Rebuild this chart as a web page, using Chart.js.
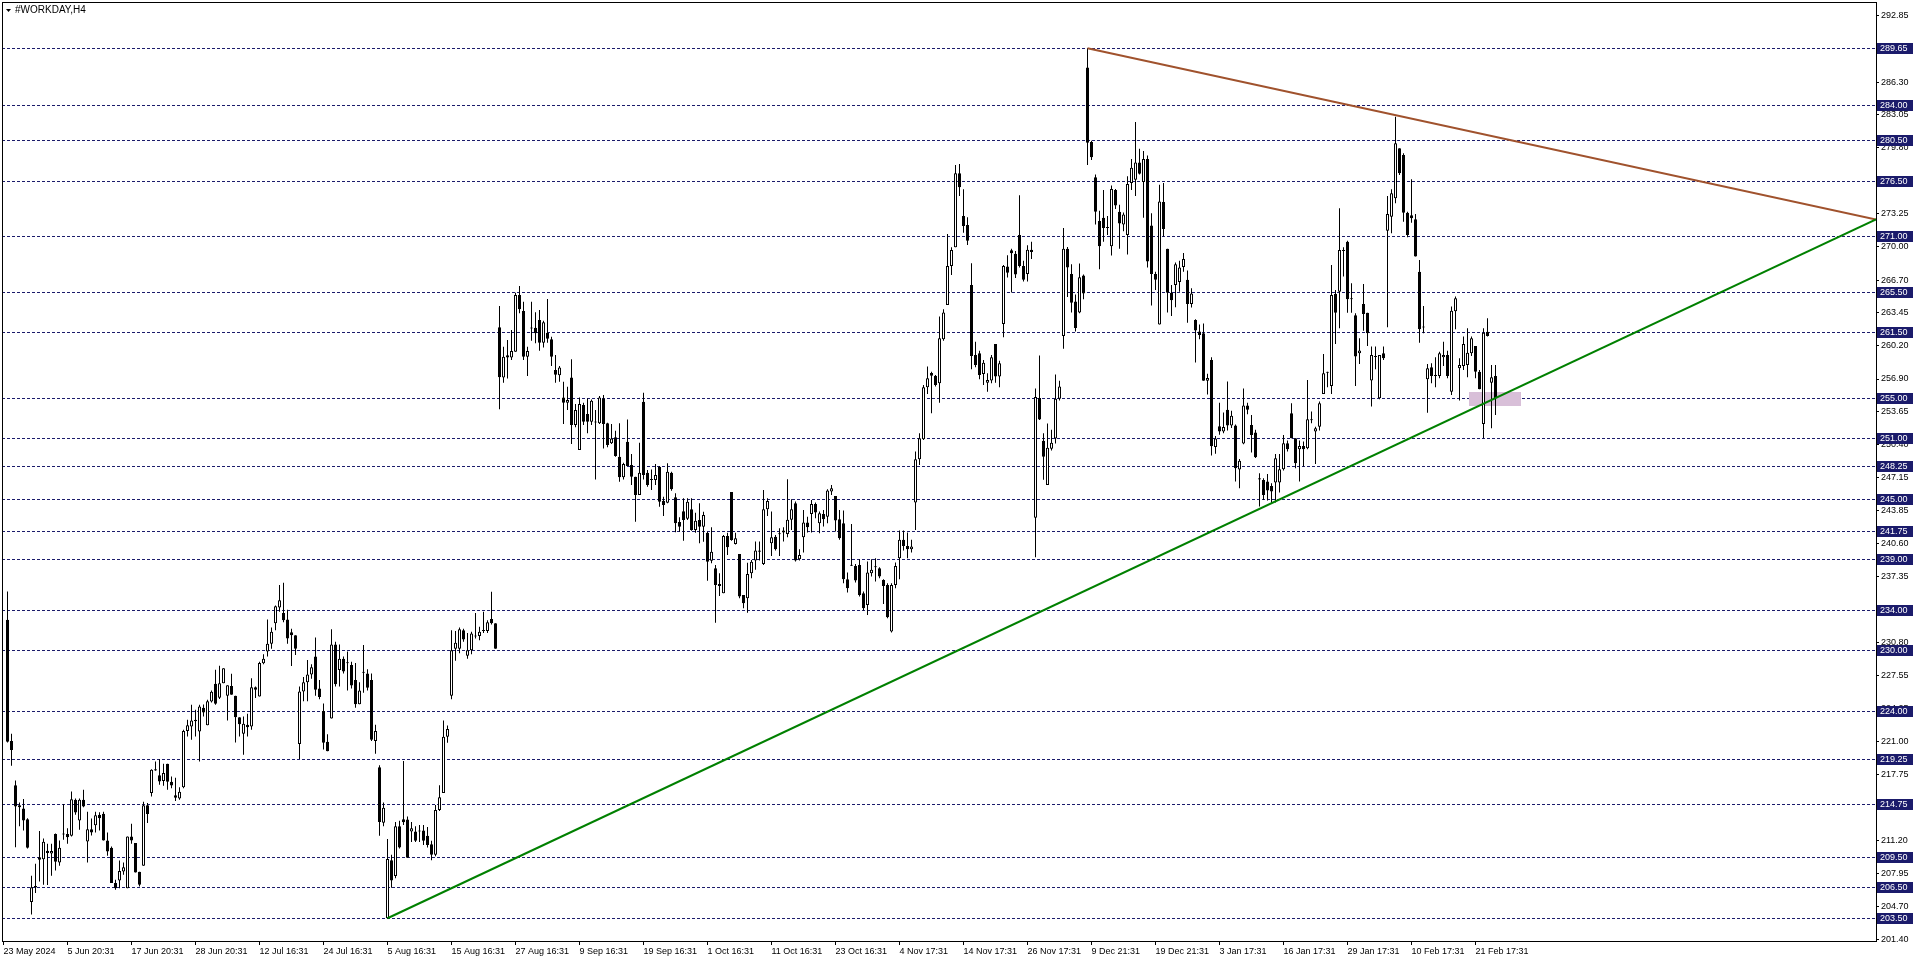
<!DOCTYPE html>
<html><head><meta charset="utf-8">
<script src="https://cdn.jsdelivr.net/npm/chart.js@4.4.1/dist/chart.umd.min.js"></script>
<style>html,body{margin:0;padding:0;background:#fff;overflow:hidden}canvas{display:block}</style>
</head><body><canvas id="c" width="1916" height="963"></canvas>
<script>
const openP = [
233.05,221.04,216.68,214.7,214.37,213.31,205.1,206.7,209.55,209.35,
210.18,209.9,211.83,209.02,211.8,211.83,211.66,215.23,213.18,215.23,
211.1,212.32,212.72,213.74,213.84,211.2,210.48,206.98,207.24,208.13,
206.48,211.6,210.94,208.1,208.69,214.7,215.89,218.26,217.67,217.08,
218.79,217.01,215.69,215.36,216.48,222.03,222.49,223.15,222.0,224.34,
222.62,224.96,226.71,225.33,226.78,225.52,226.51,225.52,223.41,221.76,
222.65,222.49,226.38,225.46,228.74,229.92,230.68,232.71,234.27,233.72,
233.09,231.82,231.53,220.76,225.95,226.88,227.64,229.42,226.25,224.01,
220.97,223.29,230.6,228.07,229.2,228.74,228.57,227.09,224.69,227.9,
227.73,227.09,221.05,218.44,212.95,203.5,209.23,207.67,212.61,213.3,
213.28,212.1,212.1,212.19,212.19,211.68,210.83,209.78,214.22,215.9,
221.48,225.53,230.18,230.18,232.03,229.5,230.05,231.4,231.44,231.95,
231.95,233.13,232.71,262.02,257.06,259.24,259.04,259.6,265.21,263.63,
259.11,262.0,261.98,262.74,260.5,261.48,260.83,257.79,257.26,255.08,
254.55,257.06,252.34,249.87,254.32,253.43,252.67,252.7,252.51,254.98,
252.51,250.53,251.12,249.21,247.16,250.69,248.38,247.23,245.41,254.65,
247.62,247.0,246.9,248.22,244.85,244.65,247.62,245.18,242.74,243.8,
243.07,243.99,241.95,242.94,242.28,241.68,238.91,238.15,236.6,235.68,
241.35,245.71,240.56,239.57,235.51,235.18,237.66,238.92,239.91,238.59,
244.0,240.64,241.29,241.62,241.69,241.56,242.95,244.6,239.05,241.23,
242.69,243.54,244.53,242.62,243.54,243.27,245.75,245.32,243.01,242.62,
237.07,238.49,238.39,238.49,235.69,234.53,237.66,238.26,238.16,237.0,
236.51,231.89,236.51,239.15,240.97,240.37,240.04,244.66,248.95,250.93,
256.08,257.5,257.21,256.48,260.83,264.23,268.09,269.94,277.27,273.05,
272.15,266.21,259.28,259.45,257.4,256.54,256.74,260.37,257.14,262.35,
268.05,269.64,269.3,271.17,268.1,267.31,269.71,243.17,255.02,250.78,
246.41,250.0,251.02,254.95,261.17,269.81,267.31,264.58,263.49,267.14,
287.74,280.36,276.88,272.54,272.88,271.96,270.05,275.61,273.46,272.2,
271.17,276.3,276.64,278.35,276.4,278.69,272.1,267.31,262.29,274.42,
269.81,265.44,266.22,266.5,267.99,266.74,264.34,262.74,261.61,261.44,
256.73,258.78,250.17,252.22,251.71,253.86,252.29,252.29,247.95,250.51,
254.27,252.35,251.59,246.95,246.91,246.75,246.31,246.64,246.64,247.96,
250.54,253.5,251.03,249.94,250.27,250.04,252.91,251.69,252.18,255.42,
257.63,256.21,265.32,265.55,269.68,270.5,264.89,263.21,259.45,264.33,
263.47,256.74,259.18,254.99,259.45,271.59,272.98,274.79,279.74,279.08,
273.37,273.11,272.71,267.53,262.09,256.87,258.06,257.3,257.2,259.05,
259.28,255.65,263.6,257.96,258.19,258.29,259.45,260.17,257.63,252.45,
261.59,256.54,257.2];
const highP = [
235.85,221.76,217.14,214.96,215.3,213.41,207.7,208.89,212.13,211.4,
210.87,210.87,211.9,211.2,214.8,212.42,216.05,215.36,215.36,216.22,
214.04,213.38,214.04,214.0,214.04,211.99,210.6,207.31,209.22,209.02,
211.6,212.85,210.94,208.1,215.03,214.9,218.26,219.02,219.25,218.79,
218.79,217.54,217.41,216.48,222.16,223.15,224.63,224.14,224.63,224.67,
225.13,226.05,228.1,228.5,228.26,226.58,227.7,225.52,223.41,223.48,
223.74,227.27,226.45,228.89,229.63,233.09,232.29,234.48,236.51,236.72,
234.06,232.16,231.53,226.46,227.39,229.08,228.66,231.31,227.09,224.77,
221.73,232.12,230.89,230.6,229.42,229.92,228.9,228.78,226.88,230.56,
228.15,227.73,222.66,218.65,214.97,211.34,209.78,213.03,213.16,219.07,
213.58,213.03,212.61,212.74,212.74,212.53,211.18,214.72,216.66,223.08,
222.58,232.03,231.95,232.29,232.16,231.74,231.86,233.72,232.37,233.85,
233.01,235.84,232.71,264.13,260.1,260.76,261.75,265.45,266.1,264.55,
260.1,264.55,263.5,263.73,262.67,264.82,261.09,259.27,258.19,256.63,
256.14,258.85,254.42,255.08,254.55,254.98,254.88,253.83,255.21,255.31,
252.57,252.44,251.78,252.51,248.61,252.9,249.47,247.23,250.59,255.54,
247.89,247.95,248.48,248.28,245.25,248.55,247.72,245.58,243.2,245.08,
245.08,245.08,243.66,244.59,243.76,241.78,242.21,238.48,237.66,241.45,
241.68,245.71,241.68,239.57,235.51,238.71,238.97,240.8,240.8,245.92,
245.09,243.77,241.46,242.12,242.22,246.97,244.99,244.76,240.04,243.93,
243.27,244.93,244.66,243.77,243.93,245.98,246.41,245.32,243.93,243.87,
237.73,242.55,238.59,239.05,235.85,238.82,239.05,239.15,238.26,237.07,
236.67,236.67,238.72,241.89,241.89,241.69,240.97,249.71,251.53,256.31,
258.13,257.63,257.3,263.08,263.8,271.26,269.94,278.09,278.19,275.69,
272.91,268.36,260.6,259.71,258.79,257.46,259.28,260.37,258.72,268.2,
269.15,269.81,269.57,275.1,268.61,270.15,270.49,255.97,259.22,251.54,
252.49,251.88,257.34,256.73,271.86,269.98,268.27,265.27,268.34,267.25,
289.65,280.5,277.15,273.56,275.61,273.05,276.06,275.71,274.15,273.39,
276.98,278.69,282.34,279.71,279.47,279.03,273.32,267.52,276.13,276.3,
269.81,266.22,268.44,268.61,269.37,267.65,265.88,262.81,262.29,262.4,
257.41,259.05,251.26,254.54,253.59,256.66,253.76,252.39,248.98,255.97,
254.54,253.34,251.88,247.57,247.07,247.5,246.57,249.48,249.48,251.36,
250.8,254.5,251.03,250.8,250.7,256.81,253.67,252.18,254.66,259.38,
257.63,268.19,265.72,273.8,269.94,270.6,266.38,263.41,260.93,266.31,
263.47,260.11,260.11,259.28,260.11,275.02,275.68,282.88,279.74,279.25,
273.47,276.67,273.24,268.69,264.13,258.39,258.46,259.05,259.61,260.6,
259.71,264.07,265.06,258.95,261.1,261.92,261.1,260.17,257.79,261.92,
262.91,258.29,258.29];
const lowP = [
220.9,218.6,210.54,212.6,212.19,210.41,203.87,205.99,207.14,206.81,
206.78,207.7,208.23,208.7,211.27,210.87,211.6,213.74,212.26,214.5,
209.02,211.7,212.0,212.2,211.2,209.68,206.98,206.32,206.48,207.8,
206.48,210.87,208.03,206.65,208.69,212.92,215.56,218.1,216.71,216.61,
216.22,216.38,215.1,215.23,216.38,221.5,221.17,221.5,219.02,223.48,
222.62,224.86,224.63,225.2,226.78,223.08,225.62,220.9,221.5,219.68,
221.5,222.16,225.3,225.46,228.66,229.42,230.18,232.03,233.85,232.8,
230.68,228.49,229.58,219.28,224.98,224.98,227.22,225.53,225.19,220.21,
220.04,223.29,226.46,226.46,227.73,226.04,226.25,224.35,224.69,225.83,
226.04,221.05,219.79,211.68,212.61,203.45,206.53,207.45,210.41,212.74,
209.49,211.05,211.05,211.05,210.75,210.5,209.23,209.65,214.13,215.9,
220.89,225.19,228.99,229.75,230.89,229.2,229.63,231.19,231.02,231.74,
231.74,232.58,230.18,253.91,256.53,256.96,258.78,259.6,263.4,258.78,
257.2,260.69,260.43,259.7,260.03,260.5,258.19,256.53,256.63,252.44,
253.83,250.46,252.11,249.87,252.34,251.52,252.34,246.96,252.44,250.03,
250.13,250.46,249.21,246.73,246.96,248.28,246.4,242.77,245.41,246.96,
246.24,245.91,246.4,244.26,243.33,244.59,245.84,241.72,241.78,240.89,
242.94,241.88,241.68,240.63,240.79,236.93,238.65,232.77,235.41,235.68,
239.47,240.89,240.5,235.18,234.19,233.76,237.16,238.0,238.92,238.49,
243.34,239.38,239.91,239.38,240.8,241.23,241.95,238.82,238.92,239.71,
241.69,241.69,243.11,241.62,242.29,242.62,245.42,241.79,240.97,236.68,
235.75,238.39,236.74,235.36,233.97,233.54,237.33,236.84,237.17,234.63,
233.21,231.79,236.18,237.07,239.91,239.15,239.71,241.95,248.39,250.87,
255.42,253.51,256.15,254.56,260.7,264.23,267.2,269.94,275.03,271.39,
270.17,257.86,258.06,256.87,256.31,255.65,256.48,256.54,256.08,261.03,
266.94,265.47,266.91,267.93,266.56,266.56,268.78,239.24,252.83,246.93,
246.41,249.83,250.51,254.78,259.9,265.03,263.49,261.61,263.42,264.79,
278.1,278.6,272.2,267.76,270.49,271.17,269.12,273.73,269.81,271.52,
269.23,275.61,275.03,277.15,272.88,267.93,264.17,265.71,262.29,271.0,
263.49,263.15,264.0,265.54,267.52,262.46,263.99,258.54,260.83,256.73,
255.36,249.32,249.49,251.37,251.54,251.81,252.05,246.76,246.07,250.44,
253.42,249.61,249.08,244.27,244.93,244.86,244.53,244.66,245.65,247.83,
249.71,251.03,248.06,246.74,248.23,249.94,252.51,248.49,251.79,255.42,
256.08,255.42,260.37,261.92,267.04,263.47,263.47,256.21,258.39,261.69,
260.17,254.17,257.86,254.89,258.79,262.02,271.33,274.3,277.1,272.48,
270.93,272.38,269.02,260.5,261.43,253.57,256.48,256.08,256.97,258.2,
256.97,255.32,261.82,254.76,257.79,257.07,259.18,256.97,255.88,251.03,
261.1,252.02,253.34];
const closeP = [
220.97,220.15,214.57,214.5,213.18,210.48,206.58,206.55,209.29,211.07,
209.95,210.15,209.09,210.48,211.9,211.53,215.29,213.97,215.23,214.57,
212.32,211.99,213.71,213.41,211.2,210.11,206.98,206.48,208.17,208.56,
211.6,211.2,208.03,206.81,214.7,213.81,218.2,218.13,217.04,217.87,
217.01,216.65,215.43,216.02,222.03,222.62,223.08,223.0,224.47,223.87,
224.99,225.92,224.73,226.78,228.26,226.58,225.62,223.41,222.72,222.75,
222.42,226.38,226.12,228.78,229.2,230.68,231.86,234.4,234.99,233.01,
231.19,231.53,230.18,225.95,226.88,227.64,228.36,226.12,225.4,220.89,
220.04,230.6,226.67,229.2,227.94,228.84,226.55,224.69,226.04,227.8,
226.33,221.18,222.03,213.03,214.43,209.36,207.24,212.61,210.5,213.0,
209.49,212.4,211.18,212.09,211.18,210.75,209.78,214.22,215.49,221.48,
222.24,230.05,230.77,232.12,231.1,230.05,231.69,231.5,231.86,232.05,
232.8,232.71,230.18,257.08,259.11,259.04,259.67,265.21,263.8,259.11,
259.67,261.9,261.42,260.5,262.51,260.89,259.11,257.33,258.05,254.55,
254.82,252.34,253.83,254.42,252.67,252.67,254.75,252.6,255.08,252.44,
250.36,251.02,249.27,247.16,248.48,248.28,247.23,245.41,247.62,247.39,
246.4,246.9,247.39,244.75,244.42,247.72,245.97,242.61,242.28,242.94,
244.75,241.95,242.87,242.28,243.43,238.81,239.8,236.5,236.4,241.35,
240.23,240.96,241.12,235.35,234.69,237.59,238.81,239.91,239.8,244.0,
244.83,241.23,240.04,241.52,241.89,242.95,244.0,238.92,239.48,242.69,
242.22,244.53,243.67,243.6,243.01,245.85,246.08,242.88,241.13,237.07,
236.18,238.4,236.94,235.52,234.2,237.73,238.0,238.36,237.33,236.41,
233.31,236.51,238.39,240.97,240.37,240.04,240.31,248.95,251.03,256.08,
256.98,257.21,256.31,260.93,263.48,268.09,269.68,277.27,275.88,272.06,
270.6,259.18,258.29,257.3,258.52,256.8,259.05,257.14,258.46,268.1,
267.42,269.36,267.25,268.1,266.74,269.71,269.47,255.12,252.9,249.21,
250.1,250.58,254.95,256.15,269.81,267.93,264.45,261.95,266.97,265.37,
280.3,278.86,273.46,270.05,271.86,271.86,275.71,274.08,272.3,273.19,
276.2,277.83,278.35,277.22,278.69,268.54,267.31,266.74,274.49,271.76,
265.44,264.69,268.27,267.93,268.78,264.34,265.37,261.71,261.27,256.73,
257.0,250.24,251.02,251.71,252.15,252.29,253.25,248.05,248.81,254.27,
253.86,251.36,249.15,247.07,245.42,245.85,245.75,249.05,247.96,250.54,
249.94,251.03,248.56,250.27,249.94,252.91,252.81,252.02,254.5,257.47,
257.53,265.22,263.47,269.68,269.58,264.79,264.79,259.12,259.72,263.34,
261.43,259.28,259.08,259.28,258.95,273.24,275.29,280.24,277.27,273.37,
271.16,272.81,269.02,261.82,261.99,257.96,257.2,257.2,259.45,259.28,
257.2,263.67,264.89,258.29,260.37,259.51,260.93,257.63,255.88,261.49,
261.16,257.07,254.99];

const xTickBars = [-1,15,31,47,63,79,95,111,127,143,159,175,191,207,223,239,255,271,287,303,319,335,351,367];
const xTickLabels = ["23 May 2024","5 Jun 20:31","17 Jun 20:31","28 Jun 20:31","12 Jul 16:31","24 Jul 16:31","5 Aug 16:31","15 Aug 16:31","27 Aug 16:31","9 Sep 16:31","19 Sep 16:31","1 Oct 16:31","11 Oct 16:31","23 Oct 16:31","4 Nov 17:31","14 Nov 17:31","26 Nov 17:31","9 Dec 21:31","19 Dec 21:31","3 Jan 17:31","16 Jan 17:31","29 Jan 17:31","10 Feb 17:31","21 Feb 17:31"];
const yTickValues = [292.85,289.60,286.30,283.05,279.80,276.55,273.25,270.00,266.70,263.45,260.20,256.90,253.65,250.40,247.15,243.85,240.60,237.35,234.05,230.80,227.55,224.25,221.00,217.75,214.50,211.20,207.95,204.70,201.40];
const levelPrices = [289.65,284.00,280.50,276.50,271.00,265.50,261.50,255.00,251.00,248.25,245.00,241.75,239.00,234.00,230.00,224.00,219.25,214.75,209.50,206.50,203.50];
const supportBars = [95, 467.125];
const supportPrices = [203.5, 272.7];
const resistBars = [270, 467.125];
const resistPrices = [289.65, 272.7];
const zoneBars = [365.4, 378.4];
const zonePrices = [254.3, 255.65];
const xRange = [-1.375, 467.125];
const yRange = [201.245, 294.235];
const chartTitle = "#WORKDAY,H4";

const FONT = "'Liberation Sans', Arial, sans-serif";
const NAVY = '#1b1b6b';
const idx = openP.map((_, i) => i);

const mtPlugin = {
  id: 'mt',
  beforeDatasetsDraw(chart) {
    const {ctx, chartArea: a, scales: {x, y}} = chart;
    ctx.save();
    ctx.beginPath(); ctx.rect(a.left, a.top, a.right - a.left, a.bottom - a.top); ctx.clip();
    ctx.strokeStyle = NAVY; ctx.lineWidth = 1; ctx.setLineDash([3, 2]);
    levelPrices.forEach(p => {
      const py = Math.floor(y.getPixelForValue(p)) + 0.5;
      ctx.beginPath(); ctx.moveTo(a.left, py); ctx.lineTo(a.right, py); ctx.stroke();
    });
    ctx.setLineDash([]);
    const x1 = x.getPixelForValue(zoneBars[0]), x2 = x.getPixelForValue(zoneBars[1]);
    const y1 = y.getPixelForValue(zonePrices[1]), y2 = y.getPixelForValue(zonePrices[0]);
    ctx.fillStyle = '#d8bfd8';
    ctx.fillRect(Math.round(x1), Math.round(y1), Math.round(x2 - x1), Math.round(y2 - y1));
    ctx.restore();
  },
  afterDraw(chart) {
    const {ctx, chartArea: a, scales: {y}} = chart;
    ctx.save();
    ctx.strokeStyle = '#000'; ctx.lineWidth = 1;
    ctx.strokeRect(a.left + 0.5, a.top + 0.5, a.right - a.left, a.bottom - a.top);
    ctx.font = '9px ' + FONT; ctx.textBaseline = 'middle'; ctx.textAlign = 'left';
    levelPrices.forEach(p => {
      const py = Math.floor(y.getPixelForValue(p)) + 0.5;
      ctx.fillStyle = NAVY;
      ctx.fillRect(a.right + 1, Math.round(py - 6), 36, 11);
      ctx.fillStyle = '#fff';
      ctx.fillText(p.toFixed(2), a.right + 4, py);
    });
    // title
    ctx.fillStyle = '#000';
    ctx.beginPath(); ctx.moveTo(a.left + 4, a.top + 7); ctx.lineTo(a.left + 9, a.top + 7); ctx.lineTo(a.left + 6.5, a.top + 10); ctx.closePath(); ctx.fill();
    ctx.font = '10px ' + FONT; ctx.textBaseline = 'middle';
    ctx.fillText(chartTitle, a.left + 13, a.top + 8);
    ctx.restore();
  }
};

new Chart(document.getElementById('c'), {
  type: 'bar',
  data: {
    datasets: [
      { type: 'line', data: supportBars.map((b, i) => ({x: b, y: supportPrices[i]})), borderColor: '#008000', borderWidth: 2, pointRadius: 0, order: 1 },
      { type: 'line', data: resistBars.map((b, i) => ({x: b, y: resistPrices[i]})), borderColor: '#a0522d', borderWidth: 2, pointRadius: 0, order: 1 },
      { type: 'bar', data: idx.map(i => ({x: i, y: [lowP[i], highP[i]]})), backgroundColor: '#000', borderWidth: 0, barThickness: 1, grouped: false, inflateAmount: 0, order: 3 },
      { type: 'bar', data: idx.map(i => ({x: i, y: [openP[i], closeP[i]]})),
        backgroundColor: idx.map(i => closeP[i] >= openP[i] ? '#fff' : '#000'),
        borderColor: '#000', borderWidth: 1, borderSkipped: false, barThickness: 3, grouped: false, inflateAmount: 0, minBarLength: 1, order: 2 }
    ]
  },
  options: {
    responsive: false, animation: false, devicePixelRatio: 1,
    layout: { padding: { left: 2, top: 2, right: 0, bottom: 0 } },
    plugins: { legend: { display: false }, tooltip: { enabled: false }, title: { display: false } },
    scales: {
      x: {
        type: 'linear', min: xRange[0], max: xRange[1], offset: false,
        afterBuildTicks: s => { s.ticks = xTickBars.map(v => ({value: v})); },
        afterFit: s => { s.height = 22; s.paddingLeft = 0; s.paddingRight = 0; },
        ticks: { callback: (v, i) => xTickLabels[i], align: 'start', maxRotation: 0, minRotation: 0, autoSkip: false, padding: 1, color: '#000', font: { family: FONT, size: 9 } },
        grid: { drawOnChartArea: false, drawTicks: true, tickLength: 4, color: '#000', offset: false },
        border: { display: false }
      },
      y: {
        type: 'linear', position: 'right', min: yRange[0], max: yRange[1], beginAtZero: false,
        afterBuildTicks: s => { s.ticks = yTickValues.map(v => ({value: v})); },
        afterFit: s => { s.width = 40; s.paddingTop = 0; s.paddingBottom = 0; },
        ticks: { callback: v => Number(v).toFixed(2), autoSkip: false, padding: 2, color: '#000', font: { family: FONT, size: 9 } },
        grid: { drawOnChartArea: false, drawTicks: true, tickLength: 3, color: '#000' },
        border: { display: false }
      }
    }
  },
  plugins: [mtPlugin]
});
</script></body></html>
